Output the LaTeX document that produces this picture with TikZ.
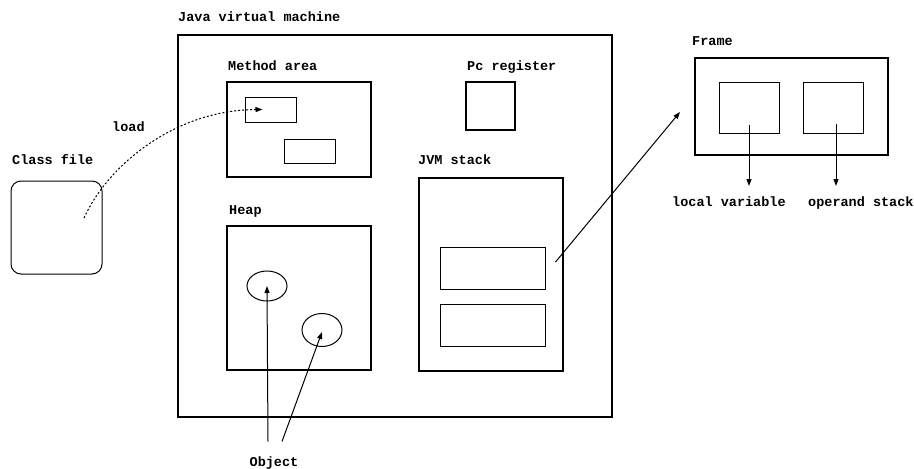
\documentclass[tikz,border=0pt]{standalone}
\usepackage{fontspec}
\newfontfamily\codefont{Liberation Mono}
\usetikzlibrary{arrows.meta,shapes.geometric}

\begin{document}
\begin{tikzpicture}[x=1pt, y=-1pt,
  every node/.style={font=\codefont\bfseries\fontsize{13.5}{15}\selectfont},
  area/.style={draw, line width=1.5pt, inner sep=0pt},
  slot/.style={draw, line width=1pt, inner sep=0pt},
  lbl/.style={anchor=base west, inner sep=0pt},
  arr/.style={line width=1pt, -{Triangle[length=7pt,width=5pt]}}]
  \useasboundingbox (0,0) rectangle (914,469);
  % class file
  \node[slot, rounded corners=10pt, minimum width=91pt, minimum height=93pt] (cf) at (56.5,227.5) {};
  \node[lbl] (cflbl) at (12,164) {Class file};
  \node[lbl] (loadlbl) at (112,131) {load};
  % jvm
  \node[area, minimum width=434pt, minimum height=382pt] (jvm) at (395,226) {};
  \node[lbl] (jvmlbl) at (178,21) {Java virtual machine};
  \node[area, minimum width=144pt, minimum height=95pt] (method) at (299,129.5) {};
  \node[lbl] (methodlbl) at (228,70) {Method area};
  \node[slot, minimum width=51pt, minimum height=25pt] (cls1) at (270.5,109.5) {};
  \node[slot, minimum width=51pt, minimum height=24pt] (cls2) at (309.5,151) {};
  \node[area, minimum width=49pt, minimum height=48pt] (pc) at (490.5,106) {};
  \node[lbl] (pclbl) at (467,70) {Pc register};
  \node[area, minimum width=144pt, minimum height=144pt] (heap) at (299,298) {};
  \node[lbl] (heaplbl) at (229,214) {Heap};
  \node[slot, ellipse, minimum width=40pt, minimum height=30pt] (obj1) at (267,286) {};
  \node[slot, ellipse, minimum width=40pt, minimum height=33pt] (obj2) at (322,330) {};
  \node[area, minimum width=144pt, minimum height=193pt] (stack) at (491,274.5) {};
  \node[lbl] (stacklbl) at (418,164) {JVM stack};
  \node[slot, minimum width=105pt, minimum height=42pt] (sf1) at (492.5,268) {};
  \node[slot, minimum width=105pt, minimum height=42pt] (sf2) at (492.5,325) {};
  \node[anchor=base, inner xsep=0pt, inner ysep=14.5pt] (objlbl) at (274,466) {Object};
  % frame
  \node[area, minimum width=193pt, minimum height=97pt] (frame) at (791.5,106.5) {};
  \node[lbl] (framelbl) at (692,45) {Frame};
  \node[slot, minimum width=60pt, minimum height=51pt] (lv) at (749,107.5) {};
  \node[slot, minimum width=60pt, minimum height=51pt] (os) at (833,107.5) {};
  \node[anchor=base west, inner xsep=0pt, inner ysep=10pt] (lvlbl) at (672,206) {local variable};
  \node[anchor=base west, inner xsep=0pt, inner ysep=10pt] (oslbl) at (808,206) {operand stack};
  \coordinate (framein) at (680,112);
  % connectors
  \draw[arr, dash pattern=on 2pt off 2pt] ([shift={(27.5pt,9.5pt)}]cf.center)
    .. controls (108,165) and (175,110) .. ([xshift=-8pt]cls1.center);
  \draw[arr] ([xshift=-6pt]objlbl.north) -- (obj1.center);
  \draw[arr] ([xshift=8pt]objlbl.north) -- ([yshift=-2pt]obj2.center);
  \draw[arr] ([shift={(10pt,6pt)}]sf1.east) -- (framein);
  \draw[arr] ([yshift=-17pt]lv.center) -- (lv.center |- lvlbl.north);
  \draw[arr] ([shift={(3pt,-16pt)}]os.center) -- ([xshift=3pt]os.center |- oslbl.north);
\end{tikzpicture}
\end{document}
